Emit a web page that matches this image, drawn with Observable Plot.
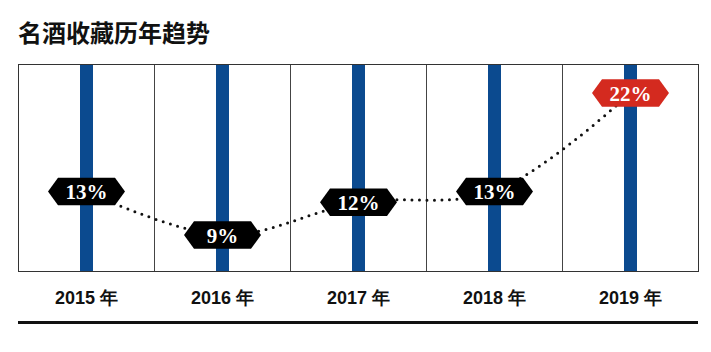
<!DOCTYPE html>
<html>
<head>
<meta charset="utf-8">
<script src="https://cdn.jsdelivr.net/npm/d3@7"></script>
<script src="https://cdn.jsdelivr.net/npm/@observablehq/plot@0.6"></script>
<style>
  html, body { margin: 0; padding: 0; background: #fff; }
  body { position: relative; width: 711px; height: 352px; overflow: hidden; }
  #title { position: absolute; left: 18px; top: 17px; font-family: "Noto Sans CJK SC", sans-serif; font-weight: 700; font-size: 24px; line-height: 30px; color: #111; white-space: nowrap; }
  #chart { position: absolute; left: 0; top: 55px; }
  #rule { position: absolute; left: 18px; top: 321px; width: 680px; height: 3px; background: #111; }
</style>
</head>
<body>
<div id="title">名酒收藏历年趋势</div>
<div id="chart"></div>
<div id="rule"></div>
<script>
const years = [2015, 2016, 2017, 2018, 2019];
const values = [13, 9, 12, 13, 22];
const yearLabels = ["2015 年", "2016 年", "2017 年", "2018 年", "2019 年"];
const highlighted = [false, false, false, false, true];
const panelEdges = [2014.5, 2015.5, 2016.5, 2017.5, 2018.5, 2019.5];

const data = years.map((year, i) => ({year, value: values[i], hi: highlighted[i]}));

const blue = "#0b4a8f";
const red = "#d42a1f";

const hexagon = {
  draw(ctx) {
    const w = 38.5, h = 13.75, t = 10;
    ctx.moveTo(-w, 0);
    ctx.lineTo(-w + t, -h);
    ctx.lineTo(w - t, -h);
    ctx.lineTo(w, 0);
    ctx.lineTo(w - t, h);
    ctx.lineTo(-w + t, h);
    ctx.closePath();
  }
};

const chart = Plot.plot({
  width: 711,
  height: 297,
  marginTop: 9,
  marginBottom: 81,
  marginLeft: 18,
  marginRight: 13,
  style: {fontFamily: "'Liberation Sans', Arial, sans-serif", background: "transparent"},
  x: {domain: [2014.5, 2019.5], axis: null, label: null},
  y: {domain: [5.67, 24.62], axis: null, label: null},
  color: {type: "identity"},
  marks: [
    Plot.ruleX(years, {x: d => d, stroke: blue, strokeWidth: 13}),
    Plot.ruleX(panelEdges, {x: d => d, stroke: "#444", strokeWidth: 1}),
    Plot.frame({stroke: "#333", strokeWidth: 1}),
    Plot.line(data, {
      x: "year", y: "value", curve: "catmull-rom",
      stroke: "#111", strokeWidth: 3, strokeDasharray: "0 7.5", strokeLinecap: "round"
    }),
    Plot.dot(data, {
      x: "year", y: "value", symbol: hexagon, r: 5,
      fill: d => d.hi ? red : "#000", stroke: "none"
    }),
    Plot.text(data, {
      x: "year", y: "value", text: d => d.value + "%",
      fill: "#fff", fontSize: 21, fontWeight: "bold",
      fontFamily: "'Liberation Serif', 'DejaVu Serif', serif", dy: 1
    }),
    Plot.axisX(years, {
      anchor: "bottom", tickSize: 0, tickPadding: 20, label: null,
      tickFormat: d => yearLabels[years.indexOf(d)],
      fontSize: 18, fontWeight: "bold", fill: "#111"
    })
  ]
});
document.getElementById("chart").appendChild(chart);
</script>
</body>
</html>
